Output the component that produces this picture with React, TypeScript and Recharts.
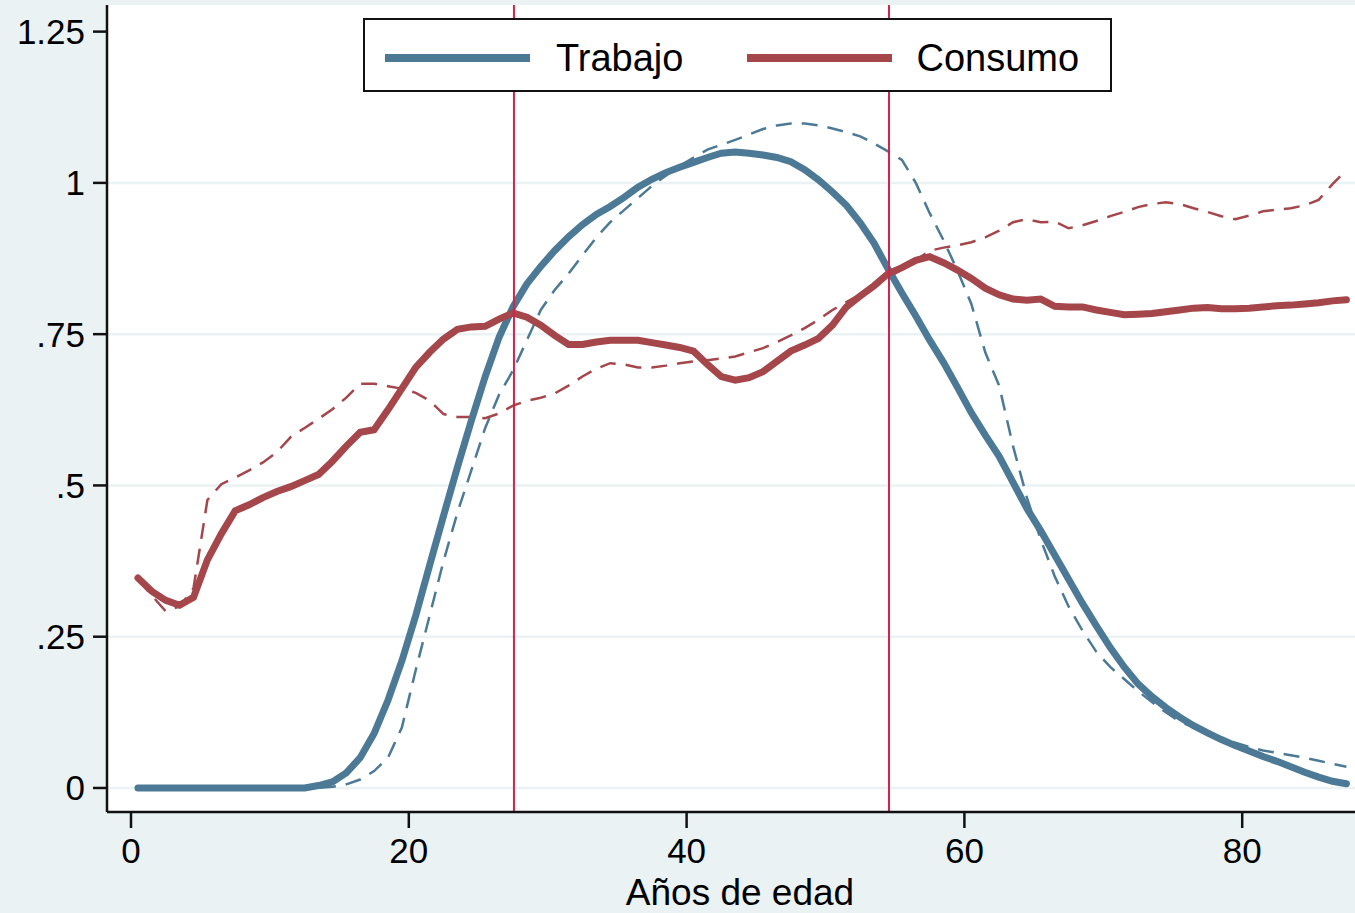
import { LineChart, Line, XAxis, YAxis, CartesianGrid, ReferenceLine } from 'recharts'

// edad (puntos medios del año)
const ages = [
  0.5, 1.5, 2.5, 3.5, 4.5, 5.5, 6.5, 7.5, 8.5, 9.5, 10.5, 11.5, 12.5, 13.5, 14.5, 15.5, 16.5, 17.5, 18.5, 19.5,
  20.5, 21.5, 22.5, 23.5, 24.5, 25.5, 26.5, 27.5, 28.5, 29.5, 30.5, 31.5, 32.5, 33.5, 34.5, 35.5, 36.5, 37.5, 38.5, 39.5,
  40.5, 41.5, 42.5, 43.5, 44.5, 45.5, 46.5, 47.5, 48.5, 49.5, 50.5, 51.5, 52.5, 53.5, 54.5, 55.5, 56.5, 57.5, 58.5, 59.5,
  60.5, 61.5, 62.5, 63.5, 64.5, 65.5, 66.5, 67.5, 68.5, 69.5, 70.5, 71.5, 72.5, 73.5, 74.5, 75.5, 76.5, 77.5, 78.5, 79.5,
  80.5, 81.5, 82.5, 83.5, 84.5, 85.5, 86.5, 87.5
]

const trabajo = [
  0, 0, 0, 0, 0, 0, 0, 0, 0, 0, 0, 0, 0, 0.004, 0.01, 0.025, 0.05, 0.09, 0.145, 0.21,
  0.285, 0.368, 0.45, 0.53, 0.607, 0.68, 0.745, 0.795, 0.833, 0.862, 0.888, 0.911, 0.931, 0.948, 0.961, 0.976, 0.993, 1.006, 1.017, 1.026,
  1.034, 1.042, 1.049, 1.051, 1.049, 1.046, 1.042, 1.035, 1.022, 1.005, 0.985, 0.963, 0.934, 0.9, 0.858, 0.818, 0.78, 0.74, 0.703, 0.662,
  0.62, 0.583, 0.548, 0.505, 0.462, 0.425, 0.385, 0.345, 0.305, 0.268, 0.232, 0.2, 0.172, 0.151, 0.133, 0.117, 0.103, 0.091, 0.08, 0.07,
  0.061, 0.052, 0.044, 0.035, 0.026, 0.018, 0.011, 0.007
]

const trabajoRef = [
  0, 0, 0, 0, 0, 0, 0, 0, 0, 0, 0, 0, 0, 0, 0.002, 0.006, 0.014, 0.028, 0.05, 0.1,
  0.195, 0.285, 0.375, 0.455, 0.525, 0.595, 0.65, 0.69, 0.74, 0.79, 0.823, 0.85, 0.88, 0.91, 0.935, 0.955, 0.975, 0.995, 1.012, 1.028,
  1.042, 1.055, 1.063, 1.071, 1.08, 1.089, 1.095, 1.098, 1.098, 1.095, 1.09, 1.084, 1.077, 1.065, 1.052, 1.038, 1.0, 0.95, 0.905, 0.855,
  0.8, 0.72, 0.665, 0.565, 0.48, 0.41, 0.35, 0.3, 0.26, 0.225, 0.2, 0.18, 0.16, 0.142, 0.125, 0.11, 0.1, 0.09, 0.082, 0.075,
  0.068, 0.062, 0.058, 0.054, 0.05, 0.045, 0.04, 0.035
]

const consumo = [
  0.347, 0.325, 0.31, 0.302, 0.315, 0.377, 0.42, 0.458, 0.468, 0.48, 0.49, 0.498, 0.508, 0.518, 0.54, 0.565, 0.588, 0.592, 0.625, 0.66,
  0.695, 0.72, 0.742, 0.758, 0.762, 0.763, 0.775, 0.785, 0.778, 0.765, 0.748, 0.733, 0.733, 0.737, 0.74, 0.74, 0.74, 0.736, 0.732, 0.728,
  0.722, 0.7, 0.68, 0.674, 0.678, 0.688, 0.705, 0.722, 0.732, 0.743, 0.765, 0.795, 0.813, 0.83, 0.85, 0.86, 0.872, 0.878, 0.868, 0.856,
  0.842, 0.826, 0.815, 0.808, 0.806, 0.808, 0.796, 0.795, 0.795, 0.79, 0.786, 0.782, 0.783, 0.784, 0.787, 0.79, 0.793, 0.794, 0.792, 0.792,
  0.793, 0.795, 0.797, 0.798, 0.8, 0.802, 0.805, 0.807
]

const consumoRef = [
  0.345, 0.318, 0.292, 0.3, 0.33, 0.476, 0.502, 0.513, 0.525, 0.538, 0.555, 0.58, 0.595, 0.61, 0.626, 0.645, 0.668, 0.668, 0.664, 0.66,
  0.653, 0.64, 0.618, 0.613, 0.613, 0.611, 0.619, 0.632, 0.64, 0.645, 0.652, 0.665, 0.68, 0.693, 0.702, 0.7, 0.695, 0.695, 0.698, 0.702,
  0.705, 0.707, 0.71, 0.713, 0.72, 0.727, 0.737, 0.748, 0.76, 0.774, 0.79, 0.803, 0.816, 0.83, 0.843, 0.857, 0.872, 0.888, 0.893, 0.897,
  0.902, 0.91, 0.921, 0.935, 0.94, 0.935, 0.936, 0.925, 0.93, 0.937, 0.945, 0.952, 0.96, 0.965, 0.968, 0.965, 0.958, 0.952, 0.945, 0.94,
  0.946, 0.953, 0.956, 0.958, 0.963, 0.972, 0.998, 1.021
]

const xTicks = [0, 20, 40, 60, 80]
const yTicks = [0, 0.25, 0.5, 0.75, 1, 1.25]
const gridLevels = [0, 0.25, 0.5, 0.75, 1]
const markers = [27.57, 54.57]

const BLUE = '#4c7a96'
const RED = '#a5464b'
const MARK = '#d3234a'
const BG = '#eaf2f3'
const FONT = '"Liberation Sans", Arial, sans-serif'

const data = ages.map((age, i) => ({
  age,
  trabajo: trabajo[i],
  trabajoRef: trabajoRef[i],
  consumo: consumo[i],
  consumoRef: consumoRef[i]
}))

const fmtY = (v: number) => {
  if (v === 0) return '0'
  if (v === 1) return '1'
  if (v === 1.25) return '1.25'
  return String(v).replace(/^0/, '')
}

export default function App() {
  return (
    <div style={{ position: 'absolute', left: 0, top: 0, width: 1355, height: 913, background: BG, overflow: 'hidden', fontFamily: FONT }}>
      <LineChart width={1355} height={913} data={data} margin={{ top: 5, right: 0, left: 0, bottom: 0 }}>
        <CartesianGrid horizontal={false} vertical={false} fill="#ffffff" />
        {gridLevels.map(v => (
          <ReferenceLine key={`g-${v}`} y={v} stroke={BG} strokeWidth={2.5} />
        ))}
        <XAxis
          dataKey="age"
          type="number"
          domain={[-1.728, 88.12]}
          ticks={xTicks}
          allowDataOverflow
          height={101}
          tickSize={16}
          tickMargin={10}
          axisLine={{ stroke: '#111', strokeWidth: 2.5 }}
          tickLine={{ stroke: '#111', strokeWidth: 2.5 }}
          tick={{ fill: '#000', fontSize: 35, fontFamily: FONT }}
          label={{ value: 'Años de edad', position: 'insideBottom', offset: 8, dx: 9, fill: '#000', fontSize: 37, fontFamily: FONT }}
        />
        <YAxis
          type="number"
          domain={[-0.0397, 1.294]}
          ticks={yTicks}
          allowDataOverflow
          width={107}
          tickSize={14}
          tickMargin={8}
          tickFormatter={fmtY}
          axisLine={{ stroke: '#111', strokeWidth: 2.5 }}
          tickLine={{ stroke: '#111', strokeWidth: 2.5 }}
          tick={{ fill: '#000', fontSize: 35, fontFamily: FONT }}
        />
        <Line type="linear" dataKey="trabajoRef" stroke={BLUE} strokeWidth={2.5} strokeDasharray="16 10" dot={false} isAnimationActive={false} />
        <Line type="linear" dataKey="consumoRef" stroke={RED} strokeWidth={2.5} strokeDasharray="16 10" dot={false} isAnimationActive={false} />
        <Line type="linear" dataKey="trabajo" stroke={BLUE} strokeWidth={7} strokeLinecap="round" dot={false} isAnimationActive={false} />
        <Line type="linear" dataKey="consumo" stroke={RED} strokeWidth={7} strokeLinecap="round" dot={false} isAnimationActive={false} />
        {markers.map(m => (
          <ReferenceLine key={`m-${m}`} x={m} stroke={MARK} strokeWidth={2} />
        ))}
      </LineChart>

      <div
        style={{
          position: 'absolute',
          left: 363,
          top: 18,
          width: 749,
          height: 74,
          boxSizing: 'border-box',
          border: '2.5px solid #111',
          background: '#fff',
          display: 'flex',
          alignItems: 'center',
          paddingTop: 6,
          fontSize: 38,
          color: '#000'
        }}
      >
        <svg width={145} height={10} style={{ marginLeft: 20 }}>
          <line x1={0} y1={5} x2={145} y2={5} stroke={BLUE} strokeWidth={8} />
        </svg>
        <span style={{ marginLeft: 26 }}>Trabajo</span>
        <svg width={145} height={10} style={{ marginLeft: 64 }}>
          <line x1={0} y1={5} x2={145} y2={5} stroke={RED} strokeWidth={8} />
        </svg>
        <span style={{ marginLeft: 24 }}>Consumo</span>
      </div>
    </div>
  )
}
